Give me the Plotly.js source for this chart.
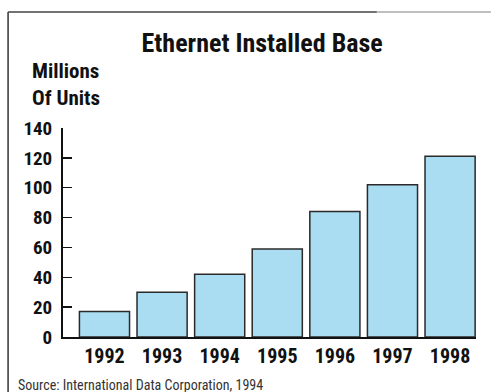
<!DOCTYPE html>
<html>
<head>
<meta charset="utf-8">
<script src="https://cdn.plot.ly/plotly-3.0.1.min.js"></script>
<style>
html,body{margin:0;padding:0;background:#fff;}
#chart{width:491px;height:392px;}
text, tspan{font-stretch:condensed !important;}
</style>
</head>
<body>
<div id="chart"></div>
<script>
const years = ["1992", "1993", "1994", "1995", "1996", "1997", "1998"];
const unitsMillions = [17, 30, 42, 59, 84, 102, 121];
const yTicks = [0, 20, 40, 60, 80, 100, 120, 140];

const fontFam = 'Roboto, "Open Sans", "DejaVu Sans Condensed", sans-serif';

const trace = {
  type: 'bar',
  x: years,
  y: unitsMillions,
  marker: { color: '#aadcf2', line: { color: '#2a2a2a', width: 1.5 } },
  width: 0.87,
  hoverinfo: 'skip'
};

const layout = {
  width: 491, height: 392,
  margin: { l: 63, r: 15, t: 128, b: 55 },
  paper_bgcolor: '#ffffff', plot_bgcolor: '#ffffff',
  showlegend: false,
  title: { text: '<b>Ethernet Installed Base</b>', x: 0.534, xanchor: 'center', y: 0.89, yanchor: 'middle',
           font: { family: fontFam, size: 26, color: '#111' } },
  xaxis: {
    type: 'category', range: [-0.72, 6.45], fixedrange: true,
    showline: true, linecolor: '#111', linewidth: 2, ticks: '', showgrid: false, zeroline: false,
    ticklabelstandoff: 0,
    tickfont: { family: fontFam, size: 20, color: '#111', weight: 'bold' }
  },
  yaxis: {
    range: [0, 140], tickvals: yTicks, ticktext: yTicks.map(String), fixedrange: true,
    showline: true, linecolor: '#111', linewidth: 2, ticks: 'inside', ticklen: 9, tickwidth: 1.5, tickcolor: '#111',
    showgrid: false, zeroline: false, ticklabelstandoff: 5,
    tickfont: { family: fontFam, size: 19, color: '#111', weight: 'bold' }
  },
  annotations: [
    { text: '<b>Millions<br>Of Units</b>', xref: 'paper', yref: 'paper', x: -0.08, y: 1.21, xanchor: 'left', yanchor: 'middle',
      align: 'left', showarrow: false, font: { family: fontFam, size: 21, color: '#111' } },
    { text: 'Source: International Data Corporation, 1994', xref: 'paper', yref: 'paper', x: -0.114, y: -0.23,
      xanchor: 'left', yanchor: 'middle', showarrow: false, font: { family: fontFam, size: 14, color: '#333' } }
  ],
  shapes: [
    { type: 'line', xref: 'paper', yref: 'paper', x0: -0.133, x1: -0.133, y0: -0.27, y1: 1.555, line: { color: '#333', width: 1.5 } },
    { type: 'line', xref: 'paper', yref: 'paper', x0: -0.133, x1: 0.76, y0: 1.555, y1: 1.555, line: { color: '#444', width: 1.5 } },
    { type: 'line', xref: 'paper', yref: 'paper', x0: 0.76, x1: 1.036, y0: 1.555, y1: 1.555, line: { color: '#aaa', width: 1.5 } }
  ]
};

Plotly.newPlot('chart', [trace], layout, { displayModeBar: false, staticPlot: true });
</script>
</body>
</html>
